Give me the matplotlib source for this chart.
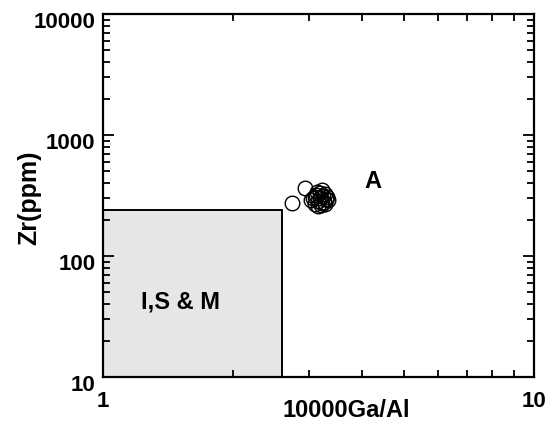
import matplotlib
matplotlib.use("Agg")
import matplotlib.pyplot as plt
from matplotlib.patches import Rectangle
from matplotlib.transforms import ScaledTranslation

plt.rcParams['font.family'] = ['Liberation Sans', 'DejaVu Sans']
plt.rcParams['font.weight'] = 'bold'

# Sample data: 10000*Ga/Al ratio and Zr (ppm)
ga_al = [2.74, 2.94, 3.03, 3.07, 3.10, 3.12, 3.14, 3.16, 3.18, 3.19,
         3.21, 3.22, 3.24, 3.25, 3.27, 3.29, 3.31, 3.33, 3.15, 3.23,
         3.28, 3.11]
zr = [274, 365, 288, 300, 268, 318, 340, 285, 332, 300, 265, 348,
      312, 282, 325, 295, 305, 288, 260, 275, 268, 305]

# Field boundary for I, S & M-type granites
field_ga_al = 2.6
field_zr = 240

x_limits = [1, 10]
y_limits = [10, 10000]
x_ticks = [1, 10]
x_tick_labels = ['1', '10']
y_ticks = [10, 100, 1000, 10000]
y_tick_labels = ['10', '100', '1000', '10000']

fig = plt.figure(figsize=(5.55, 4.22), dpi=100)
ax = fig.add_axes([103 / 555, 45 / 422, 431 / 555, 363 / 422])
ax.set_xscale('log')
ax.set_yscale('log')
ax.set_xlim(x_limits)
ax.set_ylim(y_limits)

ax.add_patch(Rectangle((x_limits[0], y_limits[0]), field_ga_al - x_limits[0],
                       field_zr - y_limits[0], facecolor='#e6e6e6',
                       edgecolor='black', linewidth=1.4, zorder=1))

ax.plot(ga_al, zr, linestyle='none', marker='o', markersize=10.5,
        markerfacecolor='none', markeredgecolor='black',
        markeredgewidth=1.0, zorder=3)

ax.text(1.51, 42, 'I,S & M', fontsize=17, fontweight='bold',
        ha='center', va='center')
ax.text(4.23, 409, 'A', fontsize=17, fontweight='bold',
        ha='center', va='center')

ax.set_xticks(x_ticks)
ax.set_xticklabels(x_tick_labels)
ax.set_yticks(y_ticks)
ax.set_yticklabels(y_tick_labels)
ax.xaxis.set_minor_formatter(plt.NullFormatter())
ax.yaxis.set_minor_formatter(plt.NullFormatter())

ax.tick_params(which='both', direction='in', top=True, right=True,
               labelsize=16, width=1.3)
ax.tick_params(which='major', length=8)
ax.tick_params(which='minor', length=5)
ax.tick_params(axis='y', which='major', pad=5.5)
ax.tick_params(axis='x', which='major', pad=10)

# nudge the y tick labels slightly downward
shift = ScaledTranslation(0, -4 / 72, fig.dpi_scale_trans)
for lbl in ax.get_yticklabels():
    lbl.set_transform(lbl.get_transform() + shift)
for lbl in ax.get_xticklabels() + ax.get_yticklabels():
    lbl.set_fontweight('bold')

for sp in ax.spines.values():
    sp.set_linewidth(1.6)

ax.set_xlabel('10000Ga/Al', fontsize=17, fontweight='bold')
ax.xaxis.set_label_coords(0.564, -0.11)
ax.xaxis.label.set_va('baseline')
ax.set_ylabel('Zr(ppm)', fontsize=18, fontweight='bold')
ax.yaxis.set_label_coords(-0.172, 0.493)
ax.yaxis.label.set_va('center')

fig.savefig('out.png', dpi=100)
